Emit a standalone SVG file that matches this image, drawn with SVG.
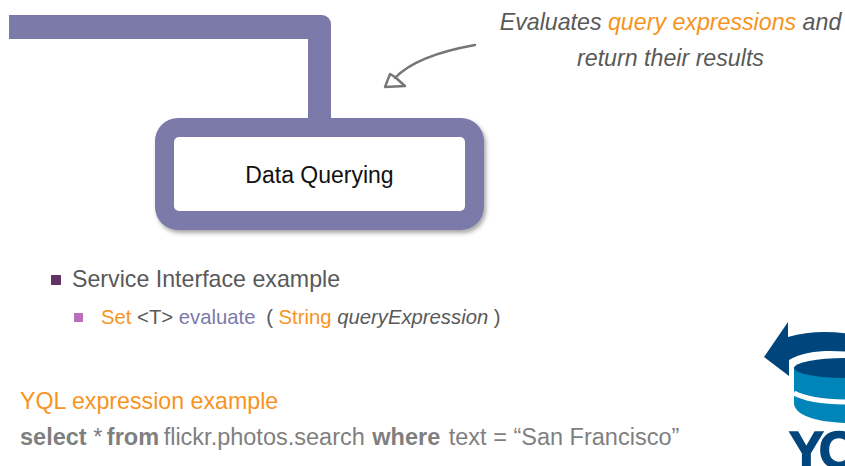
<svg xmlns="http://www.w3.org/2000/svg" width="845" height="466" viewBox="0 0 845 466">
<style>
text{font-family:"Liberation Sans",Arial,sans-serif}
.b{fill:#7b7aa9}
.g{fill:#595959}
.o{fill:#f7941e}
.i{font-style:italic}
.big{font-size:23.200px}
.mid{font-size:20.300px}
</style>
<defs>
<filter id="s" x="-5%" y="-10%" width="110%" height="125%"><feDropShadow dx="2" dy="3" stdDeviation="2" flood-color="#000" flood-opacity=".35"/></filter>
<clipPath id="c"><rect x="740" y="310" width="105" height="156"/></clipPath>
</defs>
<rect width="845" height="466" fill="#fff"/>
<g id="connectors">
<path class="b" d="M9 15H322a9 9 0 0 1 9 9V125H308V39H9Z"/>
<g id="callout-arrow" fill="none" stroke="#767676" stroke-linecap="round" stroke-linejoin="round" stroke-width="2.400">
<path d="M475 45C447 50 412 60 395 78"/>
<path d="M390 74L385 87L405 86L395 77Z"/>
</g>
</g>
<g id="data-querying">
<rect x="155" y="118" width="329" height="112" rx="23" class="b" filter="url(#s)"/>
<rect x="174" y="137" width="291" height="74" rx="5" fill="#fff"/>
<text x="319.500" y="183" font-size="23" text-anchor="middle" fill="#111">Data Querying</text>
</g>
<g id="callout-text" class="big i" fill="#595959">
<text x="670.500" y="30" text-anchor="middle">Evaluates <tspan class="o">query expressions</tspan> and</text>
<text x="670.500" y="66" text-anchor="middle">return their results</text>
</g>
<g id="service-interface">
<rect x="51" y="275" width="10" height="10" fill="#663366"/>
<text x="72" y="287" class="big g">Service Interface example</text>
<rect x="74" y="313" width="9" height="9" fill="#bb6fbb"/>
<text x="101" y="324" class="mid g"><tspan class="o">Set</tspan> &lt;T&gt; <tspan class="b">evaluate</tspan> <tspan dx="5">( </tspan><tspan class="o">String</tspan> <tspan class="i">queryExpression</tspan> )</text>
</g>
<g id="yql-example">
<text x="20" y="409" class="big o">YQL expression example</text>
<text x="20" y="445" font-size="23.500" fill="#7f7f7f"><tspan font-weight="bold">select</tspan> * <tspan font-weight="bold" dx="-2">from</tspan> <tspan dx="-2">flickr.photos.search</tspan> <tspan font-weight="bold" dx="1">where</tspan> <tspan dx="2">text = “San Francisco”</tspan></text>
</g>
<g id="yql-logo" clip-path="url(#c)">
<path d="M764 357L788 322V337C808 331 830 331 850 334V352C830 350 805 350 789 360V376Z" fill="#00457c"/>
<path d="M794 367V403C794 416 820 423 850 423V367Z" fill="#0085b8"/>
<ellipse cx="845" cy="368" rx="51" ry="10" fill="#00457c"/>
<path d="M794 393C805 399 825 402 850 402" fill="none" stroke="#fff" stroke-width="5"/>
<text x="789" y="468" font-size="52" font-weight="bold" letter-spacing="-5" fill="#00457c" stroke="#00457c" stroke-width="1.500">YQ</text>
</g>
</svg>
